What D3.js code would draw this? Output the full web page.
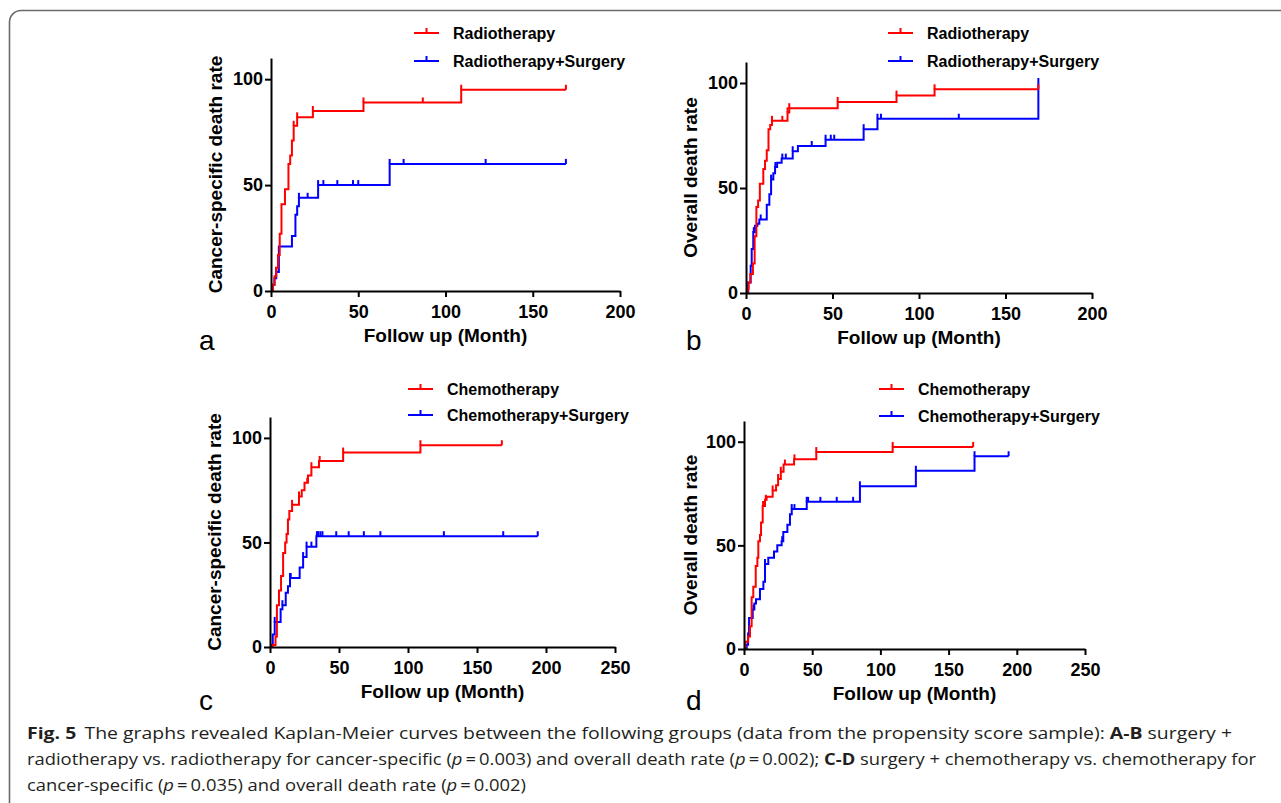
<!DOCTYPE html>
<html>
<head>
<meta charset="utf-8">
<script src="https://cdn.jsdelivr.net/npm/d3@7"></script>
<style>
  body { margin: 0; background: #fff; }
  svg { display: block; }
</style>
</head>
<body>
<script>
// ---- data (month, cumulative death %) ----
// a: cancer-specific, radiotherapy
const radCssTime   = [0, 1, 2, 3, 4, 5, 6, 8, 10, 11, 12, 13, 15, 24, 53, 109];
const radCssRate   = [0, 3, 7, 11, 17, 27, 41, 48, 60, 64, 71, 78, 82, 85, 89, 95];
const radCssCensor = [13, 15, 24, 53, 87, 109, 169];
const radSurgCssTime   = [0, 1, 2, 3, 4.5, 12, 14, 15, 16, 27, 68];
const radSurgCssRate   = [0, 3, 6, 9, 21, 26, 36, 40, 44, 50, 60];
const radSurgCssCensor = [3, 16, 21, 27, 30, 38, 47, 50, 68, 76, 123, 169];

// b: overall, radiotherapy
const radOsTime   = [0, 1, 1.5, 2.5, 4, 5, 6, 7, 8, 10, 11, 12, 13, 14, 15, 24, 25, 53, 87, 109];
const radOsRate   = [0, 2, 5, 9, 14, 27, 41, 44, 52, 59, 63, 68, 78, 80, 82, 86, 88, 91, 94, 97];
const radOsCensor = [15, 21, 24, 25, 53, 87, 109, 169];
const radSurgOsTime   = [0, 1.3, 2.7, 3.3, 4.2, 5.2, 6.6, 7.7, 12, 13.5, 14.5, 15.8, 16.8, 18, 20.6, 27, 30, 46, 68, 76, 169];
const radSurgOsRate   = [0, 5, 13, 21, 29, 32, 33, 35, 42, 47, 54, 57, 60, 62, 64, 67.5, 70, 73, 78, 83, 100];
const radSurgOsCensor = [4.5, 8.5, 14.5, 17, 21, 23, 27, 38, 46, 49, 51, 68, 76, 78, 123, 169];

// c: cancer-specific, chemotherapy
const chemoCssTime   = [0, 2, 4, 5, 6.5, 8, 9.5, 11, 12, 13, 14, 16, 21, 23, 25, 27.5, 30, 35.5, 53, 109];
const chemoCssRate   = [0, 1, 5, 20, 27, 34, 45, 50, 54, 61, 65, 68, 72, 75, 78.5, 82, 86, 89, 93, 96.5];
const chemoCssCensor = [16, 21, 27, 30, 36, 53, 109, 168];
const chemoSurgCssTime   = [0, 1, 2, 3.4, 7.7, 9, 11.4, 13, 14.5, 21.5, 24, 26.5, 33.6];
const chemoSurgCssRate   = [0, 1, 6, 12, 18, 20, 26, 29, 33, 38, 43, 48, 53];
const chemoSurgCssCensor = [3.4, 9, 14.5, 15, 24, 26.5, 30, 34, 35, 36.5, 38, 48, 57, 68, 80, 126, 169, 194];

// d: overall, chemotherapy
const chemoOsTime   = [0, 1, 3, 4.4, 5.6, 6.8, 8.6, 9.8, 10.5, 11.7, 12.5, 13.7, 15.4, 16.6, 21, 23.5, 25, 27, 29, 36.7, 53, 109];
const chemoOsRate   = [0, 3.5, 6, 11, 25, 30, 40, 44, 52, 55, 61, 69, 72, 73.5, 76.5, 79, 82, 85.5, 89, 91.5, 95, 97.5];
const chemoOsCensor = [14, 16, 21, 25, 27, 30, 37, 53, 109, 168];
const chemoSurgOsTime   = [0, 2, 3, 3.7, 6.4, 7.6, 8.8, 11.7, 14.2, 15.4, 17.8, 22, 24.4, 27.6, 28.8, 31.8, 33.7, 35, 46, 85, 126, 169];
const chemoSurgOsRate   = [0, 2, 7.5, 15, 19, 22, 24, 29, 32.5, 41, 44, 47, 50, 52, 56.5, 60, 65, 67.5, 71, 78.5, 86, 93];
const chemoSurgOsCensor = [7, 15.4, 28, 35, 37, 46, 47, 56, 68, 80, 85, 126, 169, 194];

const radNames   = ['Radiotherapy', 'Radiotherapy+Surgery'];
const chemoNames = ['Chemotherapy', 'Chemotherapy+Surgery'];
const xTicksAB = [0, 50, 100, 150, 200];
const xTicksCD = [0, 50, 100, 150, 200, 250];
const yTicks = [0, 50, 100];
const panelLetters = ['a', 'b', 'c', 'd'];

const captionLines = [
  [['Fig. 5', 'b'], ['The graphs revealed Kaplan-Meier curves between the following groups (data from the propensity score sample): ', 'gap'], ['A-B', 'b'], [' surgery +', '']],
  [['radiotherapy vs. radiotherapy for cancer-specific (', ''], ['p', 'i'], ['\u2009=\u20090.003) and overall death rate (', ''], ['p', 'i'], ['\u2009=\u20090.002); ', ''], ['C-D', 'b'], [' surgery + chemotherapy vs. chemotherapy for', '']],
  [['cancer-specific (', ''], ['p', 'i'], ['\u2009=\u20090.035) and overall death rate (', ''], ['p', 'i'], ['\u2009=\u20090.002)', '']]
];

const red = '#ff0000';
const blue = '#0000ff';
const font = '"Liberation Sans", Arial, Helvetica, sans-serif';

const svg = d3.select('body')
  .append('svg')
  .attr('width', 1281)
  .attr('height', 803);

// figure frame (top and left edge, rounded corner)
svg.append('path')
  .attr('d', 'M1281,10.5 H21 A11.5,11.5 0 0 0 9.5,22 V803')
  .attr('fill', 'none')
  .attr('stroke', '#6b6b6b')
  .attr('stroke-width', 1.6);

const panels = [
  { xMax: 200, xTicks: xTicksAB, x0: 271, x1: 620, y0: 291, y1: 58, yTitle: 'Cancer-specific death rate', titleX: 222,
    legX: 414, legY: 33, legGap: 28, letX: 199, letY: 350, names: radNames,
    series: [[radSurgCssTime, radSurgCssRate, radSurgCssCensor], [radCssTime, radCssRate, radCssCensor]] },
  { xMax: 200, xTicks: xTicksAB, x0: 746, x1: 1092, y0: 293, y1: 62, yTitle: 'Overall death rate', titleX: 697,
    legX: 888, legY: 33, legGap: 28, letX: 686, letY: 350, names: radNames,
    series: [[radSurgOsTime, radSurgOsRate, radSurgOsCensor], [radOsTime, radOsRate, radOsCensor]] },
  { xMax: 250, xTicks: xTicksCD, x0: 270, x1: 615, y0: 647, y1: 417, yTitle: 'Cancer-specific death rate', titleX: 221,
    legX: 408, legY: 389, legGap: 26, letX: 199, letY: 710, names: chemoNames,
    series: [[chemoSurgCssTime, chemoSurgCssRate, chemoSurgCssCensor], [chemoCssTime, chemoCssRate, chemoCssCensor]] },
  { xMax: 250, xTicks: xTicksCD, x0: 744, x1: 1085, y0: 649, y1: 421, yTitle: 'Overall death rate', titleX: 697,
    legX: 879, legY: 389, legGap: 27, letX: 686, letY: 710, names: chemoNames,
    series: [[chemoSurgOsTime, chemoSurgOsRate, chemoSurgOsCensor], [chemoOsTime, chemoOsRate, chemoOsCensor]] }
];

panels.forEach((p, pi) => {
  const x = d3.scaleLinear().domain([0, p.xMax]).range([p.x0, p.x1]);
  const y = d3.scaleLinear().domain([0, 110]).range([p.y0, p.y1]);
  const g = svg.append('g');

  // curves: blue (surgery) first, red on top
  p.series.forEach((s, si) => {
    const [times, rates, censor] = s;
    const color = si === 0 ? blue : red;
    const end = d3.max(censor);
    const pts = times.map((t, i) => [t, rates[i]]);
    pts.push([end, rates[rates.length - 1]]);
    const line = d3.line().x(d => x(d[0])).y(d => y(d[1])).curve(d3.curveStepAfter);
    g.append('path')
      .attr('d', line(pts))
      .attr('fill', 'none')
      .attr('stroke', color)
      .attr('stroke-width', 2);

    // censor marks
    g.selectAll(null)
      .data(censor)
      .enter()
      .append('line')
      .attr('x1', d => x(d))
      .attr('x2', d => x(d))
      .attr('y1', d => y(rates[d3.bisectRight(times, d) - 1]))
      .attr('y2', d => y(rates[d3.bisectRight(times, d) - 1]) - 5)
      .attr('stroke', color)
      .attr('stroke-width', 2);
  });

  // axes
  const xAxis = g.append('g')
    .attr('transform', `translate(0,${p.y0})`)
    .call(d3.axisBottom(x).tickValues(p.xTicks).tickSize(6).tickPadding(8).tickSizeOuter(0));
  const yAxis = g.append('g')
    .attr('transform', `translate(${p.x0},0)`)
    .call(d3.axisLeft(y).tickValues(yTicks).tickSize(6).tickPadding(2).tickSizeOuter(0));
  [xAxis, yAxis].forEach(a => {
    a.selectAll('path, line').attr('stroke', '#000').attr('stroke-width', 2);
    a.selectAll('text')
      .attr('fill', '#000')
      .style('font-family', font)
      .style('font-weight', 'bold')
      .style('font-size', '18px');
  });

  // axis titles
  g.append('text')
    .attr('x', (p.x0 + p.x1) / 2)
    .attr('y', p.y0 + 51)
    .attr('text-anchor', 'middle')
    .style('font-family', font)
    .style('font-weight', 'bold')
    .style('font-size', '19px')
    .text('Follow up (Month)');
  g.append('text')
    .attr('transform', `translate(${p.titleX},${(p.y0 + p.y1) / 2}) rotate(-90)`)
    .attr('text-anchor', 'middle')
    .style('font-family', font)
    .style('font-weight', 'bold')
    .style('font-size', '19px')
    .text(p.yTitle);

  // legend (red entry on top)
  [red, blue].forEach((c, i) => {
    const ly = p.legY + i * p.legGap;
    g.append('line')
      .attr('x1', p.legX).attr('x2', p.legX + 25)
      .attr('y1', ly).attr('y2', ly)
      .attr('stroke', c).attr('stroke-width', 2);
    g.append('line')
      .attr('x1', p.legX + 12.5).attr('x2', p.legX + 12.5)
      .attr('y1', ly).attr('y2', ly - 5)
      .attr('stroke', c).attr('stroke-width', 2);
    g.append('text')
      .attr('x', p.legX + 39)
      .attr('y', ly + 5.5)
      .style('font-family', font)
      .style('font-weight', 'bold')
      .style('font-size', '16px')
      .text(p.names[i]);
  });

  // panel letter
  g.append('text')
    .attr('x', p.letX)
    .attr('y', p.letY)
    .style('font-family', font)
    .style('font-size', '28px')
    .text(panelLetters[pi]);
});

// caption
const capY = [739, 765, 791];
const capWidth = [1205, 1229, null];
let ratio = 1;
captionLines.forEach((segs, li) => {
  const t = svg.append('text')
    .attr('x', 27)
    .attr('y', capY[li])
    .attr('fill', '#231f20')
    .style('font-family', '"Open Sans", "Noto Sans", sans-serif')
    .style('font-size', '16.5px');
  segs.forEach(([txt, st]) => {
    const ts = t.append('tspan').text(txt);
    if (st === 'b') ts.style('font-weight', 'bold');
    if (st === 'i') ts.style('font-style', 'italic');
    if (st === 'gap') ts.attr('dx', 7);
  });
  const natural = t.node().getComputedTextLength();
  if (capWidth[li]) ratio = capWidth[li] / natural;
  t.attr('textLength', natural * ratio).attr('lengthAdjust', 'spacingAndGlyphs');
});
</script>
</body>
</html>
